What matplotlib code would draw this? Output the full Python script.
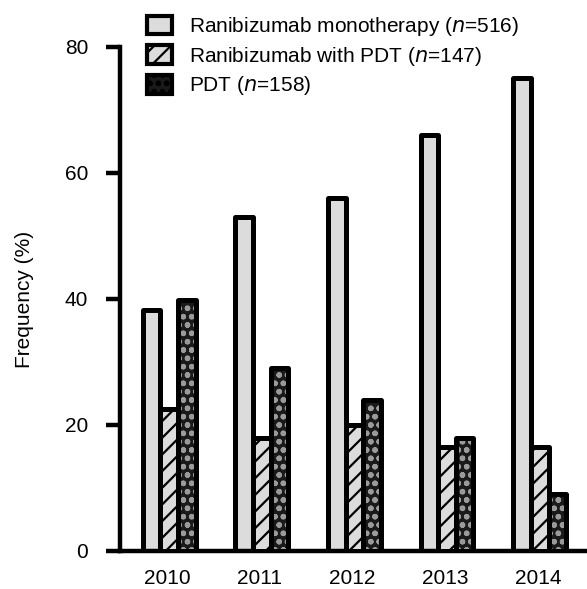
import matplotlib
matplotlib.use("Agg")
import matplotlib.pyplot as plt
import numpy as np
from matplotlib.patches import Patch

years = ["2010", "2011", "2012", "2013", "2014"]
series_names = ["Ranibizumab monotherapy (", "Ranibizumab with PDT (", "PDT ("]
series_n = ["516", "147", "158"]
mono = [38.3, 53, 56, 66, 75]
combo = [22.5, 18, 20, 16.5, 16.5]
pdt = [39.8, 29, 24, 18, 9]

plt.rcParams['font.family'] = ['Liberation Sans', 'DejaVu Sans']
plt.rcParams['hatch.linewidth'] = 1.6

fig = plt.figure(figsize=(5.87, 5.89), dpi=100)
ax = fig.add_axes([120/587, 1 - 551/589, (587 - 120)/587, (551 - 47)/589])

x = np.arange(len(years))
w = 0.19
offs = [-w, 0.0, w]
styles = [
    dict(face="#dcdcdc", hatch=None, hcol="#dcdcdc"),
    dict(face="#dcdcdc", hatch="//", hcol="black"),
    dict(face="#1a1a1a", hatch="oo", hcol="#9a9a9a"),
]
data = [mono, combo, pdt]
for i, (vals, st) in enumerate(zip(data, styles)):
    xi = x + offs[i] + 0.02
    ax.bar(xi, vals, width=w, color=st["face"], hatch=st["hatch"],
           edgecolor=st["hcol"], linewidth=0, zorder=2 + i)
    ax.bar(xi, vals, width=w, facecolor="none", edgecolor="black",
           linewidth=3.6, joinstyle="round", zorder=2 + i)

ax.set_xlim(-0.51, 4.53)
ax.set_ylim(0, 80)
ax.set_yticks([0, 20, 40, 60, 80])
ax.set_xticks(x)
ax.set_xticklabels(years)
ax.spines['top'].set_visible(False)
ax.spines['right'].set_visible(False)
ax.spines['left'].set_linewidth(3.2)
ax.spines['bottom'].set_linewidth(3.2)
ax.tick_params(axis='y', length=10, width=3.2, labelsize=15, pad=13)
ax.tick_params(axis='x', length=0, labelsize=15, pad=13)
ax.set_ylabel("Frequency (%)", fontsize=15, labelpad=22)

handles = []
labels = []
for nm, n, st in zip(series_names, series_n, styles):
    handles.append(Patch(facecolor=st["face"], hatch=st["hatch"], edgecolor="black", linewidth=3))
    labels.append(nm + r"$\it{n}$=" + n + ")")
leg = fig.legend(handles, labels, loc="upper left", bbox_to_anchor=(147/587, 1 - 15/589),
                 frameon=False, fontsize=15, handlelength=1.2, handleheight=1.0,
                 handletextpad=0.8, labelspacing=0.32, borderaxespad=0, borderpad=0)

fig.savefig("out.png", dpi=100)
